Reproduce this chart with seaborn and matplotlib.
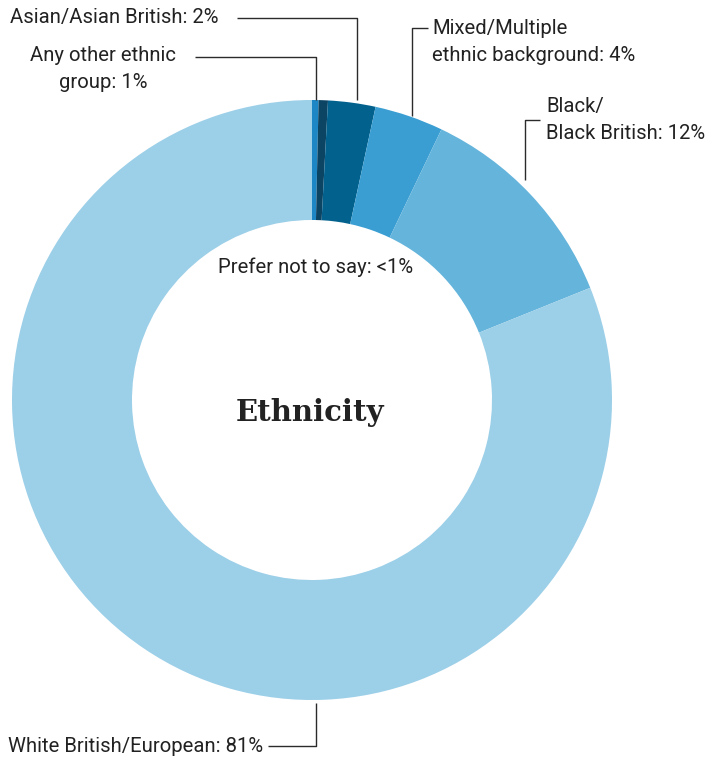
import matplotlib
matplotlib.use("Agg")
import matplotlib.pyplot as plt
import seaborn as sns

categories = ["Any other ethnic group", "Prefer not to say", "Asian/Asian British",
              "Mixed/Multiple ethnic background", "Black/Black British", "White British/European"]
values = [0.35, 0.5, 2.55, 3.7, 11.8, 81.1]
colors = ["#1d87c6", "#0c4464", "#03618e", "#3a9ed3", "#64b4dc", "#9ccfe8"]

sns.set_theme(style="white")
plt.rcParams['font.family'] = ['Roboto', 'DejaVu Sans']

W, H = 708, 760
fig = plt.figure(figsize=(W / 100, H / 100), dpi=100)
cx, cy, R = 312, 400, 300
ax = fig.add_axes([(cx - R) / W, (H - cy - R) / H, 2 * R / W, 2 * R / H])
ax.pie(values, colors=colors, startangle=90, counterclock=False, radius=1.0,
       wedgeprops=dict(width=0.4, linewidth=0))
ax.set_xlim(-1, 1)
ax.set_ylim(-1, 1)
ax.set_aspect('equal')
ax.axis('off')


def P(px, py):
    return ((px - cx) / R, (cy - py) / R)


def line(pts):
    xs, ys = zip(*[P(*p) for p in pts])
    ax.plot(xs, ys, color="#2b2b2b", lw=1.0, clip_on=False, solid_capstyle='butt')


fs = 14.6
tc = "#222222"
kw = dict(fontsize=fs, color=tc, clip_on=False)
ls = 1.55

# Asian
ax.text(*P(10, 18), "Asian/Asian British: 2%", ha='left', va='center', **kw)
line([(237, 18), (357, 18), (357, 100)])
# Any other
ax.text(*P(103, 69), "Any other ethnic\ngroup: 1%", ha='center', va='center',
        linespacing=ls, **kw)
line([(195, 57), (316, 57), (316, 100)])
# Mixed
ax.text(*P(432, 42), "Mixed/Multiple\nethnic background: 4%", ha='left', va='center',
        linespacing=ls, **kw)
line([(428, 28), (412, 28), (412, 116)])
# Black
ax.text(*P(546, 120), "Black/\nBlack British: 12%", ha='left', va='center',
        linespacing=ls, **kw)
line([(540, 120), (525, 120), (525, 180)])
# White
ax.text(*P(8, 746), "White British/European: 81%", ha='left', va='center', **kw)
line([(268, 746), (316, 746), (316, 703)])
# Prefer not to say
ax.text(*P(316, 267), "Prefer not to say: <1%", ha='center', va='center', **kw)
# Title
ax.text(*P(310, 413), "Ethnicity", ha='center', va='center', fontsize=21,
        fontweight='heavy', family=['DejaVu Serif'], color="#222222")

fig.savefig("out.png", dpi=100)
